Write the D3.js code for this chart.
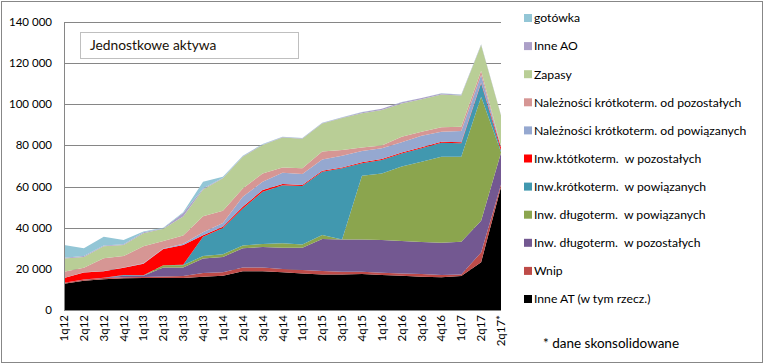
<!DOCTYPE html>
<html><head><meta charset="utf-8">
<script src="https://cdn.jsdelivr.net/npm/d3@7"></script>
<style>
body{margin:0;background:#fff;}
svg{display:block;font-family:Lato,"Open Sans",sans-serif;}
text{white-space:pre;}
</style></head>
<body><svg id="c" width="764" height="363"></svg>
<script>
const categories = ["1q12","2q12","3q12","4q12","1q13","2q13","3q13","4q13","1q14","2q14","3q14","4q14","1q15","2q15","3q15","4q15","1q16","2q16","3q16","4q16","1q17","2q17","2q17*"];
const inneAT    = [12700,14250,15000,15400,15500,15500,15500,16200,16600,18800,18800,18300,17800,17300,17300,17500,17000,16700,16200,15900,16500,23200,59800];
const wnip      = [500,450,500,500,500,800,1000,1800,1700,1900,1800,1600,1600,1600,1300,1100,1100,1100,1300,1100,800,4800,1200];
const dlPoz     = [0,100,200,800,700,4300,4100,7000,7500,9300,10000,10400,10900,15600,15700,15700,15900,15700,15500,15700,15900,15400,15500];
const dlPow     = [0,0,0,0,0,1100,1200,1200,1250,1400,1500,2100,1600,1900,0,31000,32400,36200,39100,41800,41300,60300,300];
const krPow     = [0,0,0,300,200,0,200,9400,12850,18000,25400,28300,28400,30800,34550,6000,6500,6400,6500,6800,6500,6500,700];
const krPoz     = [2300,3400,3100,3500,5600,8000,9600,700,600,800,800,500,500,500,450,500,500,500,500,500,500,400,1500];
const nalPow    = [100,100,100,200,200,200,600,1500,1800,4900,4100,5500,5300,5500,5700,5500,5200,4900,5600,4900,5500,3600,300];
const nalPoz    = [3000,2200,6300,5500,8300,3700,4000,7800,6000,4000,4000,2600,2800,3800,2800,1700,1400,2700,2000,2100,2100,2100,300];
const zapasy    = [6400,5300,5800,5400,6300,5900,9200,13000,15700,15400,13800,14600,14400,13700,15500,16600,17200,16200,15700,16000,15200,12500,14900];
const inneAO    = [400,500,400,400,500,300,1700,500,300,300,300,200,200,200,300,500,600,600,600,500,350,300,300];
const gotowka   = [6200,3700,4200,2000,300,200,400,3300,500,200,200,100,100,100,100,100,50,100,50,50,50,50,50];

const seriesNames = ["Inne AT (w tym rzecz.)","Wnip","Inw. długoterm.  w pozostałych","Inw. długoterm.  w powiązanych","Inw.krótkoterm.  w powiązanych","Inw.któtkoterm.  w pozostałych","Należności krótkoterm. od powiązanych","Należności krótkoterm. od pozostałych","Zapasy","Inne AO","gotówka"];
const seriesValues = [inneAT,wnip,dlPoz,dlPow,krPow,krPoz,nalPow,nalPoz,zapasy,inneAO,gotowka];
const colors = ["#000000","#BE4B48","#735891","#8BA54E","#4198AF","#FF0000","#95A8D0","#D69694","#B9CE96","#ACA0C8","#93C6D6"];
const yTicks = [0,20000,40000,60000,80000,100000,120000,140000];

const svg = d3.select("#c");
const x = d3.scalePoint().domain(categories).range([64,501]).padding(0);
const y = d3.scaleLinear().domain([0,140000]).range([310,22]);

const table = categories.map((c,i)=>{const o={cat:c}; seriesNames.forEach((s,k)=>o[s]=seriesValues[k][i]); return o;});
const stack = d3.stack().keys(seriesNames)(table);

svg.append("rect").attr("x",1.5).attr("y",1.5).attr("width",761).attr("height",361).attr("fill","#fff").attr("stroke","#878787");

svg.append("g").selectAll("line").data(yTicks.slice(1)).join("line")
  .attr("x1",64).attr("x2",501).attr("y1",d=>Math.round(y(d))+0.5).attr("y2",d=>Math.round(y(d))+0.5)
  .attr("stroke","#868686").attr("stroke-width",1);

const area = d3.area().x(d=>x(d.data.cat)).y0(d=>y(d[0])).y1(d=>y(d[1]));
svg.append("g").selectAll("path").data(stack).join("path")
  .attr("d",area).attr("fill",(d,i)=>colors[i]);

svg.append("line").attr("x1",64.5).attr("x2",64.5).attr("y1",22).attr("y2",310.5).attr("stroke","#868686");
svg.append("line").attr("x1",64).attr("x2",501).attr("y1",310.5).attr("y2",310.5).attr("stroke","#868686");

const fmt = v => d3.format(",")(v).replace(/,/g," ");
svg.append("g").selectAll("text").data(yTicks).join("text")
  .attr("x",52).attr("y",d=>y(d)).attr("dy","0.35em").attr("text-anchor","end")
  .attr("font-size","11.5px").attr("fill","#000").text(fmt);

svg.append("g").selectAll("text").data(categories).join("text")
  .attr("transform",d=>`translate(${x(d)},315) rotate(-90)`)
  .attr("dy","0.35em").attr("text-anchor","end")
  .attr("font-size","11.5px").attr("fill","#000").text(d=>d);

svg.append("rect").attr("x",80.5).attr("y",32.5).attr("width",218).attr("height",26).attr("fill","#fff").attr("stroke","#BFBFBF");
svg.append("text").attr("x",90).attr("y",50).attr("font-size","13.8px").attr("fill","#1a1208").text("Jednostkowe aktywa");

const leg = svg.append("g");
const legendOrder = d3.range(seriesNames.length).reverse();
legendOrder.forEach((k,j)=>{
  const yy = 18 + j*28.1;
  leg.append("rect").attr("x",524).attr("y",yy-4).attr("width",8).attr("height",8).attr("fill",colors[k]);
  leg.append("text").attr("x",534).attr("y",yy).attr("dy","0.36em").attr("font-size","12.2px").attr("fill","#000").text(seriesNames[k]);
});
svg.append("text").attr("x",543).attr("y",343).attr("dy","0.36em").attr("font-size","13.5px").attr("fill","#000").text("* dane skonsolidowane");
</script></body></html>
